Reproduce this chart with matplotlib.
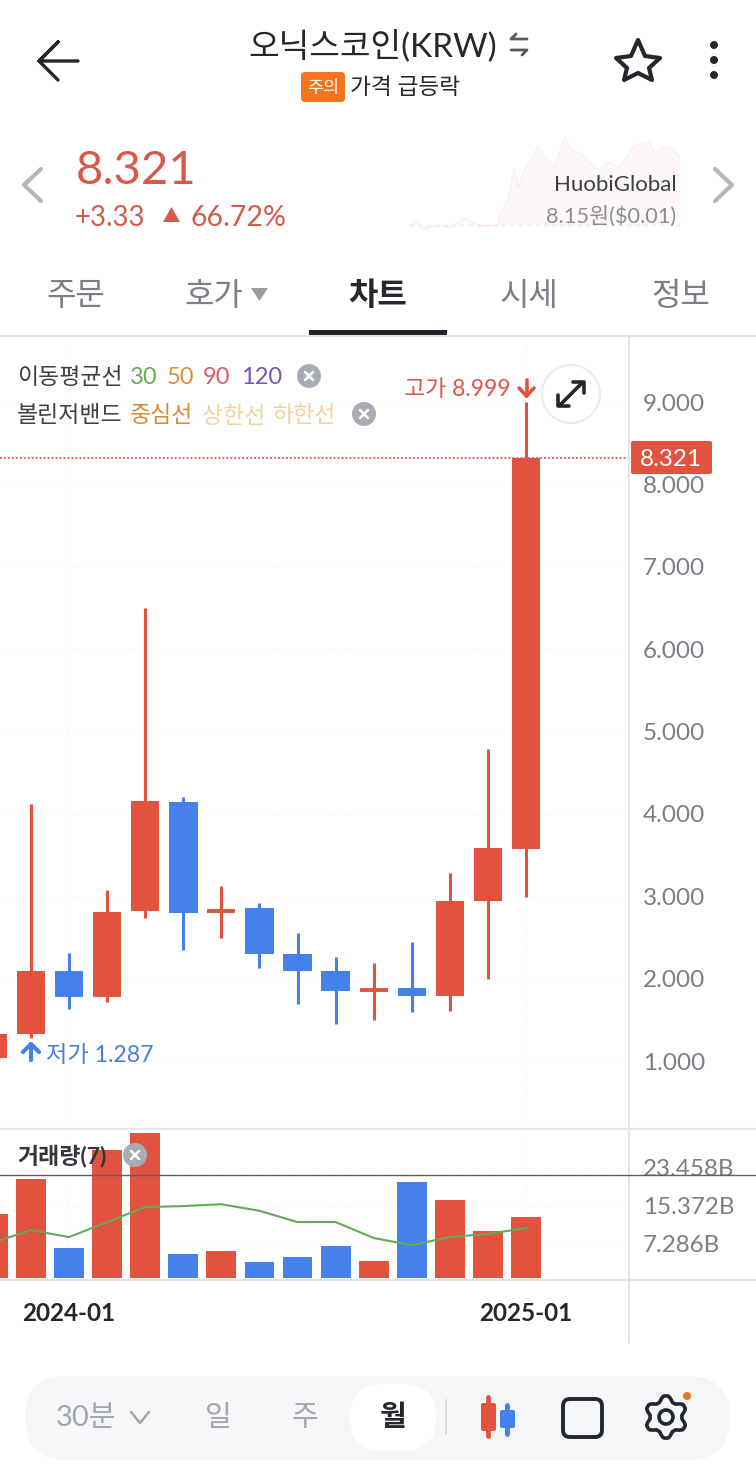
import matplotlib
matplotlib.use("Agg")
import matplotlib.pyplot as plt
import numpy as np
from matplotlib.patches import Circle, FancyBboxPatch, Polygon, Rectangle
from matplotlib.ticker import FixedLocator, FuncFormatter

plt.rcParams["font.family"] = ["Lato", "Noto Sans CJK KR", "DejaVu Sans"]

RED = "#e2533f"
RED_TEXT = "#d6594a"
BLUE = "#4680ea"
GREY = "#7a7f86"
DARK = "#24272c"
LINE = "#e4e5e7"

# monthly candles, first one is cut off by the left edge
opens = [1.04, 1.33, 2.09, 1.78, 2.82, 4.15, 2.82, 2.86, 2.30, 2.09, 1.86, 1.89, 1.79, 2.95, 3.58]
closes = [1.33, 2.09, 1.78, 2.81, 4.16, 2.80, 2.82, 2.30, 2.09, 1.85, 1.86, 1.79, 2.94, 3.59, 8.321]
highs = [1.33, 4.12, 2.31, 3.08, 6.50, 4.21, 3.13, 2.92, 2.56, 2.26, 2.19, 2.45, 3.28, 4.79, 8.999]
lows = [1.04, 1.287, 1.63, 1.72, 2.74, 2.35, 2.50, 2.13, 1.69, 1.45, 1.50, 1.60, 1.61, 2.00, 2.99]
rising = [1, 1, 0, 1, 1, 0, 1, 0, 0, 0, 1, 0, 1, 1, 1]
volumes = [13.6, 21.0, 6.3, 27.2, 30.8, 5.1, 5.7, 3.4, 4.5, 6.8, 3.6, 20.4, 16.6, 10.0, 13.0]
volume_ma = [7.5, 10.2, 8.7, 11.9, 15.1, 15.3, 15.7, 14.3, 11.9, 11.9, 8.5, 7.0, 8.7, 9.4, 10.6]

price_ticks = [1, 2, 3, 4, 5, 6, 7, 8, 9]
volume_ticks = [7.286, 15.372, 23.458]
date_ticks = [2, 14]
date_labels = ["2024-01", "2025-01"]

# small background sparkline behind the exchange name
spark_x = [0, 7, 13, 20, 30, 40, 53, 63, 73, 87, 90, 97, 103, 108, 115, 122, 127, 132, 137, 143, 148, 154, 160, 170, 178, 187, 197, 207, 217, 223, 237, 243, 250, 258, 268]
spark_y = [0, 5, -5, -2, 0, -3, 7, 2, -1, 0, 12, 25, 57, 38, 58, 67, 80, 68, 67, 57, 72, 87, 75, 72, 63, 55, 62, 58, 70, 80, 83, 72, 77, 78, 68]

tab_labels = ["주문", "호가", "차트", "시세", "정보"]
tab_x = [76, 214, 378, 529, 681]
period_labels = ["일", "주", "월"]
period_x = [218, 305, 393]

fig = plt.figure(figsize=(7.56, 14.76), dpi=100, facecolor="white")


def axes_px(x0, y0, x1, y1):
    return fig.add_axes([x0 / 756, 1 - y1 / 1476, (x1 - x0) / 756, (y1 - y0) / 1476])


# chart panels, limits chosen so the ticks land on the right pixel rows
ax_price = axes_px(0, 337, 629, 1129)
ax_price.set_xlim(0.19, 16.70)
ax_price.set_ylim(0.177, 9.789)

for i in range(len(opens)):
    color = RED if rising[i] else BLUE
    ax_price.vlines(i, lows[i], highs[i], color=color, lw=2.2, zorder=3)
    height = abs(closes[i] - opens[i])
    if height < 0.02:
        ax_price.hlines(opens[i], i - 0.37, i + 0.37, color=color, lw=2.8, zorder=3)
    else:
        ax_price.bar(i, height, 0.75, bottom=min(opens[i], closes[i]), color=color, zorder=4)

ax_price.axhline(closes[-1], color=RED, lw=1.3, ls=(0, (1, 1.2)), zorder=2)
ax_price.grid(True, color="#f3f4f5", lw=1, ls=(0, (1, 3)))
ax_price.set_axisbelow(True)
ax_price.xaxis.set_major_locator(FixedLocator(date_ticks))
ax_price.set_xticklabels([])
ax_price.yaxis.tick_right()
ax_price.yaxis.set_major_locator(FixedLocator(price_ticks))
ax_price.yaxis.set_major_formatter(FuncFormatter(lambda v, _: f"{v:.3f}"))
ax_price.tick_params(axis="y", length=0, pad=10, labelsize=17.5, labelcolor=GREY)
ax_price.tick_params(axis="x", length=0)
for side in ax_price.spines.values():
    side.set_visible(False)

ax_vol = axes_px(0, 1130, 629, 1280)
ax_vol.set_xlim(0.19, 16.70)
ax_vol.set_ylim(-0.43, 31.5)
ax_vol.bar(range(len(volumes)), volumes, 0.78, color=[RED if r else BLUE for r in rising], zorder=3)
ax_vol.plot(range(len(volume_ma)), volume_ma, color="#62ab54", lw=1.5, zorder=4)
ax_vol.grid(True, color="#f3f4f5", lw=1, ls=(0, (1, 3)))
ax_vol.set_axisbelow(True)
ax_vol.xaxis.set_major_locator(FixedLocator(date_ticks))
ax_vol.set_xticklabels(date_labels)
ax_vol.yaxis.tick_right()
ax_vol.yaxis.set_major_locator(FixedLocator(volume_ticks))
ax_vol.yaxis.set_major_formatter(FuncFormatter(lambda v, _: f"{v:.3f}B"))
ax_vol.tick_params(axis="y", length=0, pad=10, labelsize=17.4, labelcolor=GREY)
ax_vol.tick_params(axis="x", length=0, pad=16, labelsize=17.5, labelcolor=DARK)
for tick in ax_vol.get_xticklabels():
    tick.set_fontweight("bold")
for side in ax_vol.spines.values():
    side.set_visible(False)

ax_spark = axes_px(410, 130, 680, 232)
ax_spark.fill_between(spark_x, spark_y, 0, color="#fef9f8", lw=0)
ax_spark.plot(spark_x, spark_y, color="#fbf0ed", lw=1)
ax_spark.axhline(0, color="#f6e6e3", lw=1, ls=(0, (3, 3)))
ax_spark.set_xlim(0, 268)
ax_spark.set_ylim(-7, 95)
ax_spark.axis("off")

# everything else is app chrome, drawn in screen pixels on a top layer
ui = fig.add_axes([0, 0, 1, 1], facecolor="none", zorder=10)
ui.set_xlim(0, 756)
ui.set_ylim(1476, 0)
ui.axis("off")


def label(x, y, s, size, color=DARK, ha="left", weight="normal", **kw):
    ui.text(x, y, s, fontsize=size, color=color, ha=ha, va="center_baseline", fontweight=weight, **kw)


def stroke(xs, ys, color=DARK, lw=2.2, **kw):
    ui.plot(xs, ys, color=color, lw=lw, solid_capstyle="round", solid_joinstyle="round", **kw)


def close_button(x, y, r=12):
    ui.add_patch(Circle((x, y), r, color="#a9adb3", lw=0))
    ui.plot([x - 4, x + 4], [y - 4, y + 4], color="white", lw=1.8, solid_capstyle="round")
    ui.plot([x - 4, x + 4], [y + 4, y - 4], color="white", lw=1.8, solid_capstyle="round")


# panel borders
ui.plot([629, 629], [337, 1342], color=LINE, lw=1.5)
ui.plot([0, 756], [336, 336], color=LINE, lw=1.5)
ui.plot([0, 756], [1129, 1129], color=LINE, lw=1.5)
ui.plot([0, 756], [1280, 1280], color=LINE, lw=1.5)
ui.plot([0, 756], [1175, 1175], color="#5d6064", lw=1)

# header
stroke([78, 39, 58, 39, 58], [61, 61, 42, 61, 80], lw=2.4)
label(373, 43, "오닉스코인(KRW)", 24, ha="center")
stroke([527, 511, 516], [39, 39, 34], color="#555a60", lw=2)
stroke([511, 527, 522], [50, 50, 55], color="#555a60", lw=2)
ui.add_patch(FancyBboxPatch((301, 72), 44, 30, boxstyle="round,pad=0,rounding_size=4", color="#f6741c", lw=0))
label(323, 87, "주의", 12.5, color="white", ha="center")
label(350, 86, "가격 급등락", 16.3)
star = [(638, 40), (645, 56), (660, 58), (649, 68), (652, 80), (638, 73), (624, 80), (627, 68), (616, 58), (631, 56)]
ui.add_patch(Polygon(star, closed=True, fill=False, ec=DARK, lw=3, joinstyle="round"))
for y in (45, 60, 75):
    ui.add_patch(Circle((714, y), 4, color=DARK, lw=0))

# quote block
stroke([41, 24, 41], [169, 185, 201], color="#b3b6bb", lw=3)
stroke([715, 732, 715], [169, 185, 201], color="#b3b6bb", lw=3)
label(76, 167, "8.321", 34, color=RED_TEXT)
label(75, 215, "+3.33", 20, color=RED_TEXT)
ui.add_patch(Polygon([(163, 222), (180, 222), (171.5, 207)], color=RED_TEXT, lw=0))
label(190, 215, "66.72%", 20.5, color=RED_TEXT)
label(677, 183, "HuobiGlobal", 16, color="#3c4046", ha="right")
label(676, 214, "8.15원($0.01)", 15.7, color="#8a8e94", ha="right")

# tabs
for x, s in zip(tab_x, tab_labels):
    active = s == "차트"
    label(x, 293, s, 23, color=DARK if active else GREY, ha="center", weight="bold" if active else "normal")
ui.add_patch(Polygon([(251, 288), (268, 288), (259.5, 301)], color="#9b9ea3", lw=0))
ui.add_patch(Rectangle((309, 330), 138, 6, color="#1f2227", lw=0))

# indicator legend
label(17, 375, "이동평균선", 16.5, color="#3c4046")
label(130, 375, "30", 17, color="#62ab54")
label(167, 375, "50", 17, color="#e08a3c")
label(203, 375, "90", 17, color="#d95a6c")
label(241, 375, "120", 17, color="#7757ab")
close_button(309, 376)
label(17, 414, "볼린저밴드", 16.5, color="#3c4046")
label(130, 414, "중심선", 16.5, color="#d98a35")
label(202, 414, "상한선", 16.5, color="#eed49a")
label(273, 414, "하한선", 16.5, color="#eed49a")
close_button(364, 414)

# high / low flags and price tag
label(404, 387, "고가 8.999", 16.5, color=RED_TEXT)
stroke([526.5, 526.5], [380, 396], color=RED, lw=2.6)
stroke([519, 526.5, 534], [388, 396, 388], color=RED, lw=2.6)
label(46, 1053, "저가 1.287", 16.7, color="#4a7fd0")
stroke([31, 31], [1044, 1060], color=BLUE, lw=3)
stroke([23, 31, 39], [1052, 1044, 1052], color=BLUE, lw=3)
ui.add_patch(Circle((571, 394), 29, fc="white", ec="#ececec", lw=1.5))
stroke([560, 582], [405, 383], lw=2.6)
stroke([573, 584, 584], [382, 382, 393], lw=2.6)
stroke([558, 558, 569], [395, 406, 406], lw=2.6)
ui.add_patch(FancyBboxPatch((631, 441), 81, 33, boxstyle="round,pad=0,rounding_size=2", color=RED, lw=0))
label(671, 458, "8.321", 17.5, color="white", ha="center")

# volume header
label(17, 1154, "거래량(7)", 16.5, weight="bold", color="#33363b")
close_button(135, 1155)

# bottom toolbar
ui.add_patch(FancyBboxPatch((25, 1376), 705, 84, boxstyle="round,pad=0,rounding_size=42", color="#f5f6f7", lw=0))
ui.add_patch(FancyBboxPatch((350, 1384), 86, 67, boxstyle="round,pad=0,rounding_size=33", color="white", lw=0))
label(56, 1416, "30분", 21, color="#a3a6ab")
stroke([131, 140, 149], [1412, 1423, 1412], color="#a3a6ab", lw=1.8)
for x, s in zip(period_x, period_labels):
    active = s == "월"
    label(x, 1415, s, 21, color=DARK if active else "#a3a6ab", ha="center", weight="bold" if active else "normal")
ui.plot([446, 446], [1400, 1434], color="#d8dadc", lw=1.3)
stroke([488, 488], [1397, 1436], color=RED, lw=3.5)
ui.add_patch(FancyBboxPatch((481, 1403), 15, 28, boxstyle="round,pad=0,rounding_size=2", color=RED, lw=0))
stroke([507, 507], [1405, 1434], color=BLUE, lw=3.5)
ui.add_patch(FancyBboxPatch((500, 1410), 15, 18, boxstyle="round,pad=0,rounding_size=2", color=BLUE, lw=0))
ui.add_patch(FancyBboxPatch((563, 1399), 39, 38, boxstyle="round,pad=0,rounding_size=7", fc="none", ec=DARK, lw=2.8))
# settings gear outline
theta = np.linspace(0, 2 * np.pi, 181)
radius = 18.5 + np.clip(3.2 * np.cos(6 * theta), -2.6, 2.6)
ui.add_patch(Polygon(np.c_[666 + radius * np.sin(theta), 1417 - radius * np.cos(theta)], closed=True, fill=False, ec=DARK, lw=2.6, joinstyle="round"))
ui.add_patch(Circle((666, 1417), 7, fill=False, ec=DARK, lw=2.6))
ui.add_patch(Circle((687, 1396), 4, color="#f6741c", lw=0))

fig.savefig("out.png", dpi=100)
